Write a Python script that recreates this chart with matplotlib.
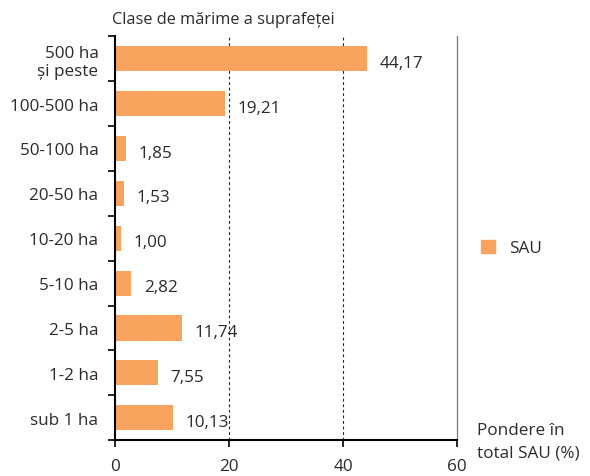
import matplotlib
matplotlib.use("Agg")
import matplotlib.pyplot as plt
from matplotlib.patches import Patch

plt.rcParams['font.family'] = ['Open Sans', 'DejaVu Sans']

categories = ['sub 1 ha', '1-2 ha', '2-5 ha', '5-10 ha', '10-20 ha',
              '20-50 ha', '50-100 ha', '100-500 ha', '500 ha\nși peste']
values = [10.13, 7.55, 11.74, 2.82, 1.00, 1.53, 1.85, 19.21, 44.17]
xticks = [0, 20, 40, 60]

bar_color = '#F8A35E'
text_color = '#2b2b2b'
fs = 12.3

fig = plt.figure(figsize=(5.9, 4.77), dpi=100)
ax = fig.add_axes([0.195, 0.075, 0.58, 0.847])

pos = list(range(len(categories)))
ax.barh(pos, values, height=0.56, color=bar_color, zorder=2)
for p, v in zip(pos, values):
    ax.annotate(f"{v:.2f}".replace('.', ','), (v, p), xytext=(9, -3),
                textcoords='offset points', va='center', ha='left',
                fontsize=fs, color=text_color)

ax.set_xlim(0, 60)
ax.set_ylim(-0.5, len(categories) - 0.5)
ax.set_xticks(xticks)
ax.set_xticklabels([str(t) for t in xticks], fontsize=fs, color=text_color)

# category labels between boundary ticks
ax.set_yticks([p - 0.5 for p in pos] + [len(pos) - 0.5])
ax.set_yticklabels([])
ax.set_yticks(pos, minor=True)
ax.set_yticklabels(categories, minor=True, fontsize=fs, color=text_color,
                   linespacing=1.2)
ax.tick_params(axis='y', which='minor', length=0, pad=12)
ax.tick_params(axis='y', which='major', length=5, width=1.2, direction='out')
ax.tick_params(axis='x', length=5, width=1.2, pad=8)

for x in [20, 40]:
    ax.axvline(x, color='#222222', linestyle=(0, (2.5, 2.5)), linewidth=0.8, zorder=1)

ax.spines['top'].set_visible(False)
ax.spines['left'].set_linewidth(1.5)
ax.spines['bottom'].set_linewidth(1.5)
ax.spines['right'].set_color('#777777')
ax.spines['right'].set_linewidth(0.9)

fig.text(0.19, 0.958, 'Clase de mărime a suprafeței', fontsize=11.8,
         color=text_color, va='center', ha='left')
fig.text(0.808, 0.073, 'Pondere în\ntotal SAU (%)', fontsize=fs,
         color=text_color, va='center', ha='left', linespacing=1.55)

fig.legend(handles=[Patch(color=bar_color, label='SAU')], loc='center left',
           bbox_to_anchor=(0.79, 0.478), frameon=False, fontsize=fs,
           handlelength=0.8, handleheight=0.8, handletextpad=0.8,
           labelcolor=text_color)

fig.savefig('out.png', dpi=100)
